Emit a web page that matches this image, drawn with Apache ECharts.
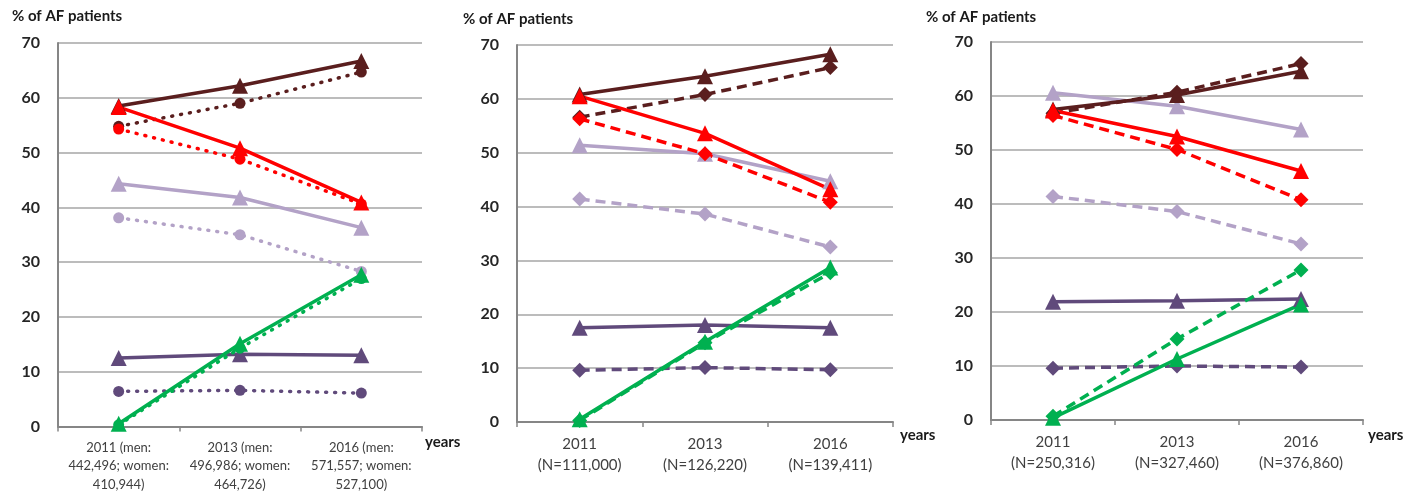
<!DOCTYPE html>
<html><head><meta charset="utf-8">
<script src="https://cdn.jsdelivr.net/npm/echarts@6/dist/echarts.min.js"></script>
<style>html,body{margin:0;padding:0;background:#fff}#c{width:1412px;height:494px}</style>
</head><body><div id="c"></div>
<script>
// ---------- data ----------
const yTicks = [0, 10, 20, 30, 40, 50, 60, 70];
const categories1 = ['2011 (men:\n442,496; women:\n410,944)', '2013 (men:\n496,986; women:\n464,726)', '2016 (men:\n571,557; women:\n527,100)'];
const categories2 = ['2011\n(N=111,000)', '2013\n(N=126,220)', '2016\n(N=139,411)'];
const categories3 = ['2011\n(N=250,316)', '2013\n(N=327,460)', '2016\n(N=376,860)'];

// panel 1 (solid = triangles, dotted = circles)
const p1BrownSolid   = [58.5, 62.2, 66.7];
const p1BrownDot     = [54.8, 59.0, 64.7];
const p1RedSolid     = [58.3, 50.8, 40.9];
const p1RedDot       = [54.3, 48.8, 40.6];
const p1LavSolid     = [44.3, 41.8, 36.3];
const p1LavDot       = [38.1, 35.0, 28.3];
const p1PurpleSolid  = [12.5, 13.2, 13.0];
const p1PurpleDot    = [6.4, 6.6, 6.1];
const p1GreenSolid   = [0.5, 15.1, 27.7];
const p1GreenDot     = [0.3, 14.3, 27.0];

// panel 2 (solid = triangles, dashed = diamonds)
const p2BrownSolid   = [60.8, 64.2, 68.3];
const p2BrownDash    = [56.6, 60.8, 65.8];
const p2RedSolid     = [60.5, 53.6, 43.2];
const p2RedDash      = [56.3, 49.8, 40.8];
const p2LavSolid     = [51.4, 49.8, 44.7];
const p2LavDash      = [41.4, 38.6, 32.5];
const p2PurpleSolid  = [17.5, 18.0, 17.5];
const p2PurpleDash   = [9.6, 10.1, 9.7];
const p2GreenSolid   = [0.5, 14.9, 28.7];
const p2GreenDash    = [0.3, 14.7, 27.7];

// panel 3 (solid = triangles, dashed = diamonds)
const p3BrownSolid   = [57.5, 60.2, 64.6];
const p3BrownDash    = [56.8, 60.7, 66.0];
const p3RedSolid     = [57.3, 52.5, 46.1];
const p3RedDash      = [56.4, 50.1, 40.8];
const p3LavSolid     = [60.6, 58.1, 53.8];
const p3LavDash      = [41.4, 38.6, 32.6];
const p3PurpleSolid  = [21.9, 22.1, 22.4];
const p3PurpleDash   = [9.6, 10.0, 9.8];
const p3GreenSolid   = [0.4, 11.3, 21.4];
const p3GreenDash    = [0.7, 15.0, 27.8];

// ---------- styling ----------
const C = {brown:'#5a1e1e', red:'#ff0000', lav:'#b3a2c7', purple:'#604a7b', green:'#00b050'};
const FONT = 'Lato, "Open Sans", sans-serif';

function mk(grid, data, color, kind, style) {
  const sym = kind === 'tri' ? 'triangle' : (kind === 'circle' ? 'circle' : 'diamond');
  const size = kind === 'tri' ? 16 : (kind === 'circle' ? 11 : 15);
  let type = 'solid';
  if (style === 'dot') type = [1, 8];
  if (style === 'dash') type = [10, 6];
  return {
    type: 'line', xAxisIndex: grid, yAxisIndex: grid, data: data,
    symbol: sym, symbolSize: size, showSymbol: true,
    itemStyle: {color: color},
    lineStyle: {color: color, width: style === 'dot' ? 3.5 : 3.5, type: type, cap: style === 'dot' ? 'round' : 'butt'},
    animation: false, silent: true
  };
}

const grids = [
  {left: 58, top: 43, width: 364, height: 386},
  {left: 517, top: 45, width: 376, height: 377},
  {left: 991, top: 42, width: 372, height: 378}
];
const cats = [categories1, categories2, categories3];
const xFont = [13, 15, 15];
const xLH = [18.5, 21, 21];

const xAxes = cats.map((c, i) => ({
  type: 'category', gridIndex: i, data: c, boundaryGap: true,
  axisLine: {lineStyle: {color: '#868686', width: 2}},
  axisTick: {show: true, length: 5, lineStyle: {color: '#868686', width: 1.5}},
  axisLabel: {color: '#404040', fontFamily: FONT, fontSize: xFont[i], lineHeight: xLH[i], margin: 12, interval: 0}
}));
const yAxes = [0, 1, 2].map(i => ({
  type: 'value', gridIndex: i, min: yTicks[0], max: yTicks[yTicks.length - 1], interval: yTicks[1] - yTicks[0],
  axisLine: {show: true, lineStyle: {color: '#868686', width: 2}},
  axisTick: {show: false},
  splitLine: {lineStyle: {color: '#a6a6a6', width: 1.5}},
  axisLabel: {color: '#262626', fontFamily: FONT, fontSize: 16, fontWeight: 'bold', margin: 18}
}));

const series = [
  mk(0, p1LavDot, C.lav, 'circle', 'dot'),
  mk(0, p1LavSolid, C.lav, 'tri', 'solid'),
  mk(0, p1PurpleDot, C.purple, 'circle', 'dot'),
  mk(0, p1PurpleSolid, C.purple, 'tri', 'solid'),
  mk(0, p1BrownDot, C.brown, 'circle', 'dot'),
  mk(0, p1BrownSolid, C.brown, 'tri', 'solid'),
  mk(0, p1RedDot, C.red, 'circle', 'dot'),
  mk(0, p1RedSolid, C.red, 'tri', 'solid'),
  mk(0, p1GreenDot, C.green, 'circle', 'dot'),
  mk(0, p1GreenSolid, C.green, 'tri', 'solid'),

  mk(1, p2LavDash, C.lav, 'diamond', 'dash'),
  mk(1, p2LavSolid, C.lav, 'tri', 'solid'),
  mk(1, p2PurpleDash, C.purple, 'diamond', 'dash'),
  mk(1, p2PurpleSolid, C.purple, 'tri', 'solid'),
  mk(1, p2BrownDash, C.brown, 'diamond', 'dash'),
  mk(1, p2BrownSolid, C.brown, 'tri', 'solid'),
  mk(1, p2RedDash, C.red, 'diamond', 'dash'),
  mk(1, p2RedSolid, C.red, 'tri', 'solid'),
  mk(1, p2GreenDash, C.green, 'diamond', 'dash'),
  mk(1, p2GreenSolid, C.green, 'tri', 'solid'),

  mk(2, p3LavDash, C.lav, 'diamond', 'dash'),
  mk(2, p3LavSolid, C.lav, 'tri', 'solid'),
  mk(2, p3PurpleDash, C.purple, 'diamond', 'dash'),
  mk(2, p3PurpleSolid, C.purple, 'tri', 'solid'),
  mk(2, p3BrownDash, C.brown, 'diamond', 'dash'),
  mk(2, p3BrownSolid, C.brown, 'tri', 'solid'),
  mk(2, p3RedDash, C.red, 'diamond', 'dash'),
  mk(2, p3RedSolid, C.red, 'tri', 'solid'),
  mk(2, p3GreenDash, C.green, 'diamond', 'dash'),
  mk(2, p3GreenSolid, C.green, 'tri', 'solid')
];

function txt(x, y, s, size, bold) {
  return {type: 'text', left: x, top: y, silent: true,
    style: {text: s, fill: '#1a1a1a', font: (bold ? 'bold ' : '') + size + 'px ' + FONT}};
}

const chart = echarts.init(document.getElementById('c'), null, {renderer: 'canvas'});
chart.setOption({
  backgroundColor: '#ffffff',
  animation: false,
  grid: grids,
  xAxis: xAxes,
  yAxis: yAxes,
  series: series,
  graphic: [
    txt(12, 9, '% of AF patients', 15, true),
    txt(463, 12, '% of AF patients', 15, true),
    txt(926, 10, '% of AF patients', 15, true),
    txt(425, 435, 'years', 15, true),
    txt(900, 428, 'years', 15, true),
    txt(1368, 428, 'years', 15, true)
  ]
});
</script></body></html>
